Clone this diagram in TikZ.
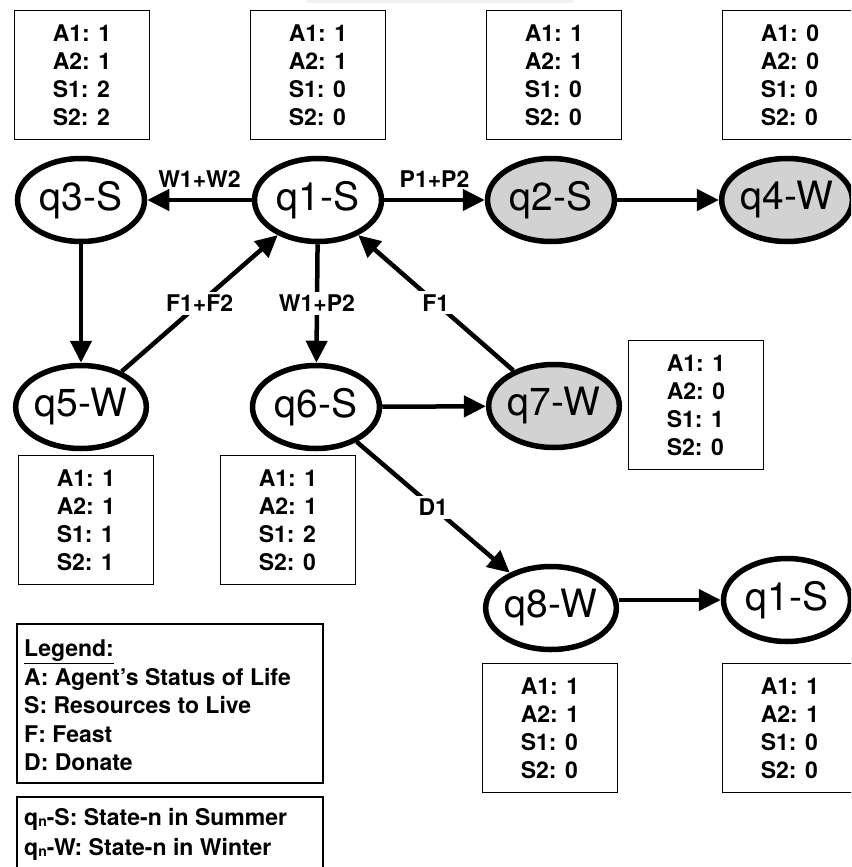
\documentclass[tikz,border=0pt]{standalone}
\usepackage{fontspec}
\setmainfont{TeX Gyre Heros}
\usetikzlibrary{shapes.geometric,arrows.meta}
\begin{document}
\begin{tikzpicture}[x=1pt,y=-1pt,
 st/.style={ellipse, draw, line width=5.5pt, minimum width=127pt, minimum height=83pt, inner sep=0pt, font=\fontsize{39}{39}\selectfont},
 gst/.style={st, fill=gray!35},
 vbox/.style={draw, line width=1.8pt, minimum width=135pt, minimum height=129pt, align=left, font=\bfseries\fontsize{23}{28}\selectfont},
 arr/.style={line width=4.5pt, -{Triangle[length=22pt,width=21pt]}},
 lab/.style={fill=white, inner sep=3pt, font=\bfseries\fontsize{23}{23}\selectfont},
 tlab/.style={inner sep=2pt, font=\bfseries\fontsize{23}{23}\selectfont}
]
\useasboundingbox (0,0) rectangle (851,867);
\clip (0,0) rectangle (851,867);
\fill[gray!12] (307,0) rectangle (573,3);

% value boxes
\node[vbox] (b3) at (82,75) {A1: 1\\A2: 1\\S1: 2\\S2: 2};
\node[vbox] (b1) at (318,75) {A1: 1\\A2: 1\\S1: 0\\S2: 0};
\node[vbox] (b2) at (554,75) {A1: 1\\A2: 1\\S1: 0\\S2: 0};
\node[vbox] (b4) at (790,75) {A1: 0\\A2: 0\\S1: 0\\S2: 0};
\node[vbox] (b7) at (696,405) {A1: 1\\A2: 0\\S1: 1\\S2: 0};
\node[vbox] (b5) at (86,520) {A1: 1\\A2: 1\\S1: 1\\S2: 1};
\node[vbox] (b6) at (288,520) {A1: 1\\A2: 1\\S1: 2\\S2: 0};
\node[vbox] (b8) at (550,728) {A1: 1\\A2: 1\\S1: 0\\S2: 0};
\node[vbox] (b1b) at (790,728) {A1: 1\\A2: 1\\S1: 0\\S2: 0};

% states
\node[st] (q3) at (81,200) {q3-S};
\node[st] (q1) at (318,200) {q1-S};
\node[gst] (q2) at (551,200) {q2-S};
\node[gst] (q4) at (787,200) {q4-W};
\node[st] (q5) at (81,407) {q5-W};
\node[st] (q6) at (316,407) {q6-S};
\node[gst] (q7) at (554,406) {q7-W};
\node[st] (q8) at (551,608) {q8-W};
\node[st] (q1b) at (787,600) {q1-S};

% transitions
\draw[arr] (q1) -- node[tlab, above=8pt] {W1+W2} (q3);
\draw[arr] (q1) -- node[tlab, above=8pt] {P1+P2} (q2);
\draw[arr] (q2) -- (q4);
\draw[arr] (q3) -- (q5);
\draw[arr] (q5) -- node[lab] {F1+F2} (q1);
\draw[arr] (q1) -- node[lab] {W1+P2} (q6);
\draw[arr] (q7) -- node[lab] {F1} (q1);
\draw[arr] (q6) -- (q7);
\draw[arr] (q6) -- node[lab] {D1} (q8);
\draw[arr] ([yshift=8pt]q8.east) -- (q1b.west);

% legend
\node[draw, line width=1.8pt, minimum width=306pt, minimum height=159pt] (leg) at (170,703.5) {};
\node[anchor=north west, align=left, inner sep=0pt, font=\bfseries\fontsize{23}{28.5}\selectfont] (legt) at (24,640) {\underline{Legend:}\\A: Agent’s Status of Life\\S: Resources to Live\\F: Feast\\D: Donate};
\node[draw, line width=1.8pt, minimum width=306pt, minimum height=72pt] (leg2) at (170,833) {};
\node[anchor=north west, align=left, inner sep=0pt, font=\bfseries\fontsize{23}{30}\selectfont] (leg2t) at (24,808) {q\raisebox{-1.5pt}{\fontsize{14}{14}\selectfont n}-S: State-n in Summer\\q\raisebox{-1.5pt}{\fontsize{14}{14}\selectfont n}-W: State-n in Winter};
\end{tikzpicture}
\end{document}
